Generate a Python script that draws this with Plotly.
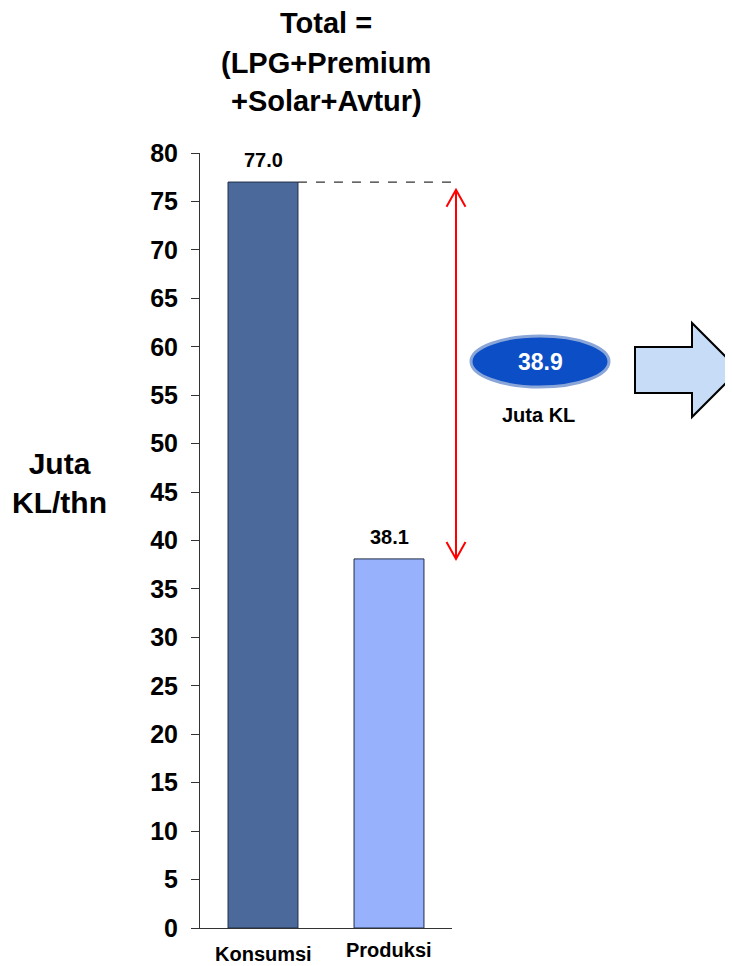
import plotly.graph_objects as go

# ---- data ----
categories = ["Konsumsi", "Produksi"]
values = [77.0, 38.1]
bar_colors = ["#4b6a9b", "#97b1fd"]
y_ticks = list(range(0, 81, 5))
title_lines = ["Total =", "(LPG+Premium", "+Solar+Avtur)"]
y_label_lines = ["Juta", "KL/thn"]
gap_unit = "Juta KL"
gap_value = round(values[0] - values[1], 1)

# ---- layout geometry (page pixels; page body has an 8px margin) ----
OFF = 8
W, H = 733 - OFF, 966 - OFF
PL, PR, PT, PB = 200, 452, 153, 928  # plot area in page pixels
ML, MT = PL - OFF, PT - OFF
MR, MB = W - (PR - OFF), H - (PB - OFF)
FONT = "Liberation Sans, Arial, sans-serif"


def px(xpix):
    return (xpix - PL) / (PR - PL)


def py(ypix):
    return (PB - ypix) / (PB - PT)


x_pos = list(range(len(categories)))
bar_w = 0.555
x_min, x_max = -0.5, len(categories) - 0.5


def xdata_to_paper(xv):
    return (xv - x_min) / (x_max - x_min)


fig = go.Figure()
fig.add_trace(go.Bar(
    x=x_pos, y=values, width=bar_w,
    marker=dict(color=bar_colors, line=dict(color="#1f2d45", width=1)),
    hoverinfo="skip", showlegend=False,
))

annotations = []
# value labels above bars
for xv, v in zip(x_pos, values):
    annotations.append(dict(x=xv, y=v, xref="x", yref="y", text=f"{v:.1f}",
                            showarrow=False, yanchor="middle", yshift=22,
                            font=dict(family=FONT, size=20, color="black", weight="bold")))
# category labels
cat_shift = [-26, -22]
for xv, c, s in zip(x_pos, categories, cat_shift):
    annotations.append(dict(x=xv, y=0, xref="x", yref="paper", text=c,
                            showarrow=False, yanchor="middle", yshift=s,
                            font=dict(family=FONT, size=20, color="black", weight="bold")))
# title, one annotation per line
title_y = [23, 63, 101]
for line, ty in zip(title_lines, title_y):
    annotations.append(dict(x=px(326), y=py(ty), xref="paper", yref="paper",
                            text=line, showarrow=False,
                            xanchor="center", yanchor="middle",
                            font=dict(family=FONT, size=29, color="black", weight="bold")))
# y label
annotations.append(dict(x=px(59), y=py(483), xref="paper", yref="paper",
                        text="<br>".join(y_label_lines), showarrow=False,
                        xanchor="center", yanchor="middle",
                        font=dict(family=FONT, size=30, color="black", weight="bold")))
# gap value in ellipse
annotations.append(dict(x=px(540), y=py(362), xref="paper", yref="paper",
                        text=f"{gap_value:.1f}", showarrow=False,
                        xanchor="center", yanchor="middle",
                        font=dict(family=FONT, size=23, color="white", weight="bold")))
annotations.append(dict(x=px(538), y=py(415), xref="paper", yref="paper",
                        text=gap_unit, showarrow=False,
                        xanchor="center", yanchor="middle",
                        font=dict(family=FONT, size=20, color="black", weight="bold")))

shapes = []
# dashed reference line from top of Konsumsi
shapes.append(dict(type="line", xref="paper", yref="y",
                   x0=xdata_to_paper(x_pos[0] + bar_w / 2), x1=px(454),
                   y0=values[0], y1=values[0],
                   line=dict(color="#333333", width=1.3, dash="dash")))
# red double arrow
ax = px(456)
top = values[0] - 0.8
bot = values[1]
hw = 9.5 / (PR - PL)
hh = 17 / ((PB - PT) / 80)
shapes.append(dict(type="line", xref="paper", yref="y", x0=ax, x1=ax, y0=top, y1=bot,
                   line=dict(color="#ff0000", width=2)))
shapes.append(dict(type="path", xref="paper", yref="y",
                   path=f"M {ax-hw},{top-hh} L {ax},{top} L {ax+hw},{top-hh}",
                   line=dict(color="#ff0000", width=2)))
shapes.append(dict(type="path", xref="paper", yref="y",
                   path=f"M {ax-hw},{bot+hh} L {ax},{bot} L {ax+hw},{bot+hh}",
                   line=dict(color="#ff0000", width=2)))
# ellipse
shapes.append(dict(type="circle", xref="paper", yref="paper",
                   x0=px(471), x1=px(609), y0=py(387), y1=py(336),
                   fillcolor="#0b4ec6", line=dict(color="#8aa6d8", width=3)))
# block arrow
pts = [(635, 347), (692, 347), (692, 323), (739, 370), (692, 417), (692, 393), (635, 393)]
path = "M " + " L ".join(f"{px(a)},{py(b)}" for a, b in pts) + " Z"
shapes.append(dict(type="path", xref="paper", yref="paper", path=path,
                   fillcolor="#c6dcf7", line=dict(color="black", width=2)))

fig.update_layout(
    width=W, height=H,
    margin=dict(l=ML, r=MR, t=MT, b=MB, pad=0),
    paper_bgcolor="white", plot_bgcolor="white",
    xaxis=dict(range=[x_min, x_max], showline=True, linecolor="#333333", linewidth=1,
               showticklabels=False, ticks="", showgrid=False, zeroline=False, fixedrange=True),
    yaxis=dict(range=[0, 80], tickvals=y_ticks, ticks="outside", ticklen=8,
               tickcolor="#333333", showline=True, linecolor="#333333", linewidth=1,
               showgrid=False, zeroline=False, ticklabelstandoff=8,
               tickfont=dict(family=FONT, size=25, color="black", weight="bold")),
    annotations=annotations,
    shapes=shapes,
    showlegend=False,
)

fig.write_html("out.html")
